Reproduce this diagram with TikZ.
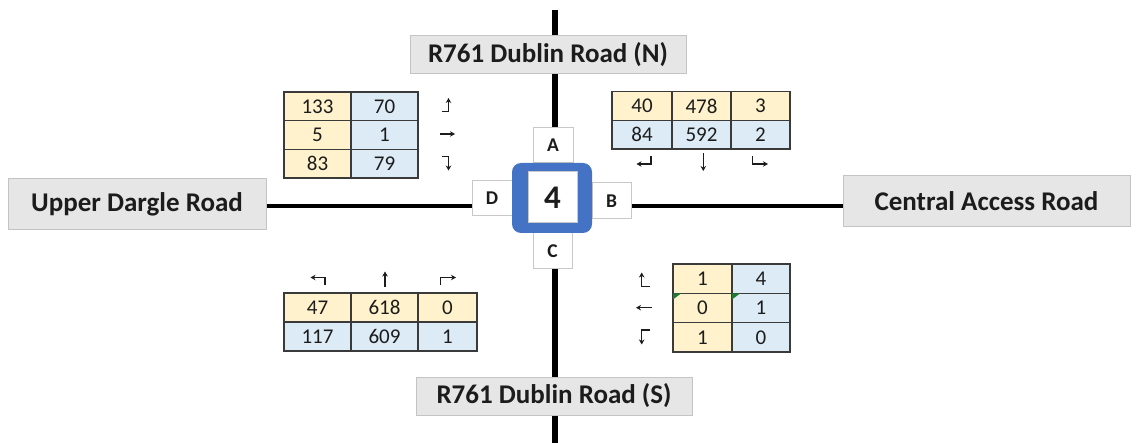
\documentclass[tikz,border=0pt]{standalone}
\usepackage{fontspec}
\setmainfont{Carlito}
\usetikzlibrary{arrows.meta}

\definecolor{labelfill}{HTML}{E7E6E6}
\definecolor{labelline}{HTML}{C4C4C4}
\definecolor{ofill}{HTML}{FFF2CC}
\definecolor{bfill}{HTML}{DDEBF7}
\definecolor{gridline}{HTML}{3A3A3A}
\definecolor{junction}{HTML}{4472C4}
\definecolor{armline}{HTML}{C8C8C8}
\definecolor{txt}{HTML}{1C1C1C}
\definecolor{flag}{HTML}{1E7B34}

\begin{document}
\begin{tikzpicture}[x=1pt,y=-1pt,
  road/.style={line width=6pt, black},
  sideroad/.style={line width=3.5pt, black},
  roadlabel/.style={draw=labelline, fill=labelfill, line width=1pt, inner sep=0pt,
    text=txt, font=\fontsize{27}{30}\selectfont\bfseries},
  arm/.style={draw=armline, fill=white, line width=1pt, inner sep=0pt,
    text=txt, font=\fontsize{19.5}{21}\selectfont\bfseries},
  cell/.style={draw=gridline, line width=1.3pt, inner sep=0pt, text=txt,
    font=\fontsize{21}{23}\selectfont},
  ocell/.style={cell, fill=ofill},
  bcell/.style={cell, fill=bfill},
  turn/.style={line width=1.4pt, draw=txt, -{Stealth[length=5pt,width=5.5pt]}},
  errflag/.style={fill=flag}
]
\useasboundingbox (0,0) rectangle (1140,443);

% main north-south road
\coordinate (ntop) at (555,10);
\coordinate (sbot) at (555,443);
\draw[road] (ntop) -- (sbot);

% road name boxes
\node[roadlabel, minimum width=258pt, minimum height=51pt] (wlab) at (137,204.5) {Upper Dargle Road};
\node[roadlabel, minimum width=287pt, minimum height=51pt] (elab) at (986.5,201) {Central Access Road};
\node[roadlabel, minimum width=276pt, minimum height=38pt] (nlab) at (548,55) {R761 Dublin Road (N)};
\node[roadlabel, minimum width=276pt, minimum height=38pt] (slab) at (554,396) {R761 Dublin Road (S)};

% east-west road
\draw[sideroad] (wlab.east |- 0,206) -- (elab.west |- 0,206);

% junction arms
\node[arm, minimum width=40pt, minimum height=35pt] (armA) at (553,145.5) {A};
\node[arm, minimum width=39pt, minimum height=36pt] (armB) at (611.5,201) {B};
\node[arm, minimum width=39pt, minimum height=36pt] (armC) at (552.5,251) {C};
\node[arm, minimum width=40pt, minimum height=35pt] (armD) at (492,198.5) {D};

% junction
\node[fill=junction, rounded corners=9pt, minimum width=80pt, minimum height=70pt, inner sep=0pt] (jn) at (552,198) {};
\node[draw=armline, fill=white, line width=1pt, minimum width=49pt, minimum height=51pt, inner sep=0pt,
  text=txt, font=\fontsize{33}{35}\selectfont\bfseries] (jnum) at (552.5,197.5) {4};

% west approach counts
\begin{scope}[every node/.append style={minimum width=67pt, minimum height=28.7pt}]
\node[ocell] (w11) at (317.5,106.3) {133};
\node[bcell] (w12) at (384.5,106.3) {70};
\node[ocell] (w21) at (317.5,135) {5};
\node[bcell] (w22) at (384.5,135) {1};
\node[ocell] (w31) at (317.5,163.7) {83};
\node[bcell] (w32) at (384.5,163.7) {79};
\end{scope}
\coordinate (wl0) at (442,111.5);
\coordinate (wl1) at (448.5,111.5);
\coordinate (wl2) at (448.5,98);
\draw[turn] (wl0) -- (wl1) -- (wl2);
\coordinate (wt0) at (440,134);
\coordinate (wt1) at (455,134);
\draw[turn] (wt0) -- (wt1);
\coordinate (wr0) at (442,156.5);
\coordinate (wr1) at (448.5,156.5);
\coordinate (wr2) at (448.5,170.5);
\draw[turn] (wr0) -- (wr1) -- (wr2);

% north approach counts
\begin{scope}[every node/.append style={minimum height=28.6pt}]
\node[ocell, minimum width=60pt] (n11) at (642,106) {40};
\node[ocell, minimum width=59pt] (n12) at (701.5,106) {478};
\node[ocell, minimum width=59pt] (n13) at (760.5,106) {3};
\node[bcell, minimum width=60pt] (n21) at (642,134.6) {84};
\node[bcell, minimum width=59pt] (n22) at (701.5,134.6) {592};
\node[bcell, minimum width=59pt] (n23) at (760.5,134.6) {2};
\end{scope}
\coordinate (nr0) at (651,156.5);
\coordinate (nr1) at (651,164);
\coordinate (nr2) at (636.5,164);
\draw[turn] (nr0) -- (nr1) -- (nr2);
\coordinate (nt0) at (703.3,153);
\coordinate (nt1) at (703.3,171);
\draw[turn] (nt0) -- (nt1);
\coordinate (nl0) at (752.7,156.5);
\coordinate (nl1) at (752.7,164);
\coordinate (nl2) at (768,164);
\draw[turn] (nl0) -- (nl1) -- (nl2);

% south approach counts
\begin{scope}[every node/.append style={minimum height=29pt}]
\node[ocell, minimum width=67pt] (s11) at (317.5,307.5) {47};
\node[ocell, minimum width=67pt] (s12) at (384.5,307.5) {618};
\node[ocell, minimum width=59pt] (s13) at (447.5,307.5) {0};
\node[bcell, minimum width=67pt] (s21) at (317.5,336.5) {117};
\node[bcell, minimum width=67pt] (s22) at (384.5,336.5) {609};
\node[bcell, minimum width=59pt] (s23) at (447.5,336.5) {1};
\end{scope}
\coordinate (sl0) at (325,285.5);
\coordinate (sl1) at (325,277.5);
\coordinate (sl2) at (310.5,277.5);
\draw[turn] (sl0) -- (sl1) -- (sl2);
\coordinate (st0) at (385,287);
\coordinate (st1) at (385,271.5);
\draw[turn] (st0) -- (st1);
\coordinate (sr0) at (440.7,285.5);
\coordinate (sr1) at (440.7,277.5);
\coordinate (sr2) at (456,277.5);
\draw[turn] (sr0) -- (sr1) -- (sr2);

% east approach counts
\begin{scope}[every node/.append style={minimum height=29.3pt}]
\node[ocell, minimum width=59pt] (e11) at (702.5,278.7) {1};
\node[bcell, minimum width=58pt] (e12) at (761,278.7) {4};
\node[ocell, minimum width=59pt] (e21) at (702.5,308) {0};
\node[bcell, minimum width=58pt] (e22) at (761,308) {1};
\node[ocell, minimum width=59pt] (e31) at (702.5,337.3) {1};
\node[bcell, minimum width=58pt] (e32) at (761,337.3) {0};
\end{scope}
\fill[errflag] ([shift={(0.7,0.7)}]e21.north west) -- ++(8,0) -- ++(-8,6) -- cycle;
\fill[errflag] ([shift={(0.7,0.7)}]e22.north west) -- ++(8,0) -- ++(-8,6) -- cycle;
\coordinate (er0) at (649.5,286.5);
\coordinate (er1) at (641.7,286.5);
\coordinate (er2) at (641.7,272.5);
\draw[turn] (er0) -- (er1) -- (er2);
\coordinate (et0) at (652,307.7);
\coordinate (et1) at (636,307.7);
\draw[turn] (et0) -- (et1);
\coordinate (el0) at (649.5,330);
\coordinate (el1) at (641.7,330);
\coordinate (el2) at (641.7,344.5);
\draw[turn] (el0) -- (el1) -- (el2);

\end{tikzpicture}
\end{document}
